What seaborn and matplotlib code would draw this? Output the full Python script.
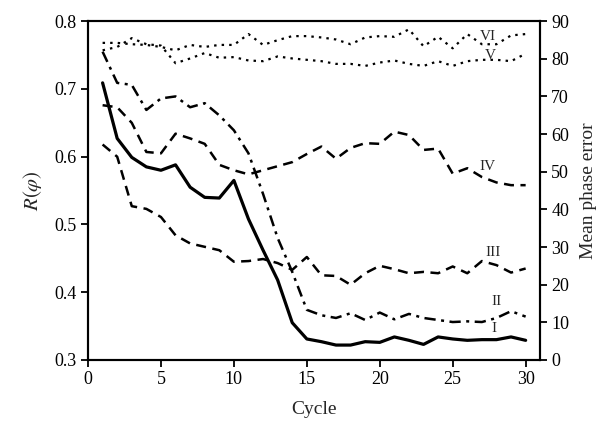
import numpy as np
import pandas as pd
import seaborn as sns
import matplotlib.pyplot as plt

sns.set_style('ticks')
plt.rcParams['font.family'] = ['Liberation Serif', 'DejaVu Serif']
plt.rcParams['mathtext.fontset'] = 'stix'

# 数据 (读自原图, R(φ) 刻度)
cycles = list(range(1, 31))
r_I = [0.709, 0.627, 0.599, 0.585, 0.580, 0.588, 0.555, 0.540, 0.539, 0.565,
       0.508, 0.462, 0.418, 0.355, 0.331, 0.327, 0.322, 0.322, 0.327, 0.326,
       0.334, 0.329, 0.323, 0.334, 0.331, 0.329, 0.330, 0.330, 0.334, 0.329]
r_II = [0.755, 0.709, 0.706, 0.669, 0.686, 0.689, 0.673, 0.679, 0.661, 0.639,
        0.605, 0.545, 0.480, 0.430, 0.374, 0.366, 0.362, 0.369, 0.359, 0.370,
        0.360, 0.368, 0.362, 0.359, 0.356, 0.357, 0.356, 0.362, 0.372, 0.364]
r_III = [0.618, 0.600, 0.527, 0.523, 0.511, 0.484, 0.472, 0.467, 0.462, 0.445,
         0.446, 0.449, 0.443, 0.433, 0.452, 0.425, 0.424, 0.411, 0.428, 0.439,
         0.434, 0.428, 0.430, 0.428, 0.438, 0.428, 0.446, 0.440, 0.429, 0.435]
r_IV = [0.676, 0.673, 0.650, 0.607, 0.605, 0.634, 0.627, 0.619, 0.588, 0.580,
        0.574, 0.580, 0.586, 0.592, 0.604, 0.615, 0.597, 0.613, 0.620, 0.619,
        0.637, 0.632, 0.610, 0.612, 0.575, 0.583, 0.570, 0.562, 0.558, 0.558]
r_V = [0.757, 0.762, 0.775, 0.766, 0.764, 0.738, 0.745, 0.753, 0.746, 0.747,
       0.742, 0.741, 0.748, 0.745, 0.743, 0.741, 0.737, 0.737, 0.734, 0.739,
       0.742, 0.737, 0.734, 0.741, 0.734, 0.741, 0.743, 0.743, 0.741, 0.752]
r_VI = [0.768, 0.768, 0.766, 0.765, 0.762, 0.757, 0.765, 0.762, 0.765, 0.765,
        0.781, 0.765, 0.772, 0.778, 0.778, 0.776, 0.773, 0.766, 0.776, 0.778,
        0.777, 0.788, 0.763, 0.777, 0.760, 0.781, 0.766, 0.766, 0.779, 0.781]
names = ['I', 'II', 'III', 'IV', 'V', 'VI']

df = pd.DataFrame({'cycle': cycles, 'I': r_I, 'II': r_II, 'III': r_III,
                   'IV': r_IV, 'V': r_V, 'VI': r_VI})

styles = {
    'I': dict(linestyle='-', linewidth=2.3),
    'II': dict(linestyle=(0, (4.5, 2.2, 1.2, 2.2)), linewidth=1.8),
    'III': dict(linestyle=(0, (4, 2.6)), linewidth=1.8),
    'IV': dict(linestyle=(0, (4, 2.6)), linewidth=1.8),
    'V': dict(linestyle=(0, (1.1, 2.3)), linewidth=1.6),
    'VI': dict(linestyle=(0, (1.1, 2.3)), linewidth=1.6),
}

fig = plt.figure(figsize=(6.07, 4.24), dpi=100)
ax = fig.add_axes([0.145, 0.151, 0.745, 0.799])

for n in names:
    sns.lineplot(data=df, x='cycle', y=n, ax=ax, color='black', **styles[n])

ax.set_xlim(0, 31)
ax.set_ylim(0.3, 0.8)
ax.set_xticks([0, 5, 10, 15, 20, 25, 30])
ax.set_yticks([0.3, 0.4, 0.5, 0.6, 0.7, 0.8])
ax.set_yticklabels(['0.3', '0.4', '0.5', '0.6', '0.7', '0.8'])
ax.set_xlabel('Cycle', fontsize=14, labelpad=9)
ax.set_ylabel(r'$R(\varphi)$', fontsize=15, labelpad=8)

ax2 = ax.twinx()
ax2.set_ylim(0, 90)
ax2.set_yticks(range(0, 91, 10))
ax2.set_ylabel('Mean phase error', fontsize=14, labelpad=8)

for a in (ax, ax2):
    for s in a.spines.values():
        s.set_linewidth(1.5)
        s.set_color('black')
    a.tick_params(direction='out', length=5, width=1.3, labelsize=13, colors='black', pad=3)

# 曲线标签
lab_pos = {'VI': (27.4, 0.778), 'V': (27.6, 0.750), 'IV': (27.4, 0.585),
           'III': (27.8, 0.458), 'II': (28.0, 0.387), 'I': (27.8, 0.346)}
for n, (x, y) in lab_pos.items():
    ax.text(x, y, n, fontsize=11, ha='center', va='center')

plt.savefig('out.png', dpi=100)
